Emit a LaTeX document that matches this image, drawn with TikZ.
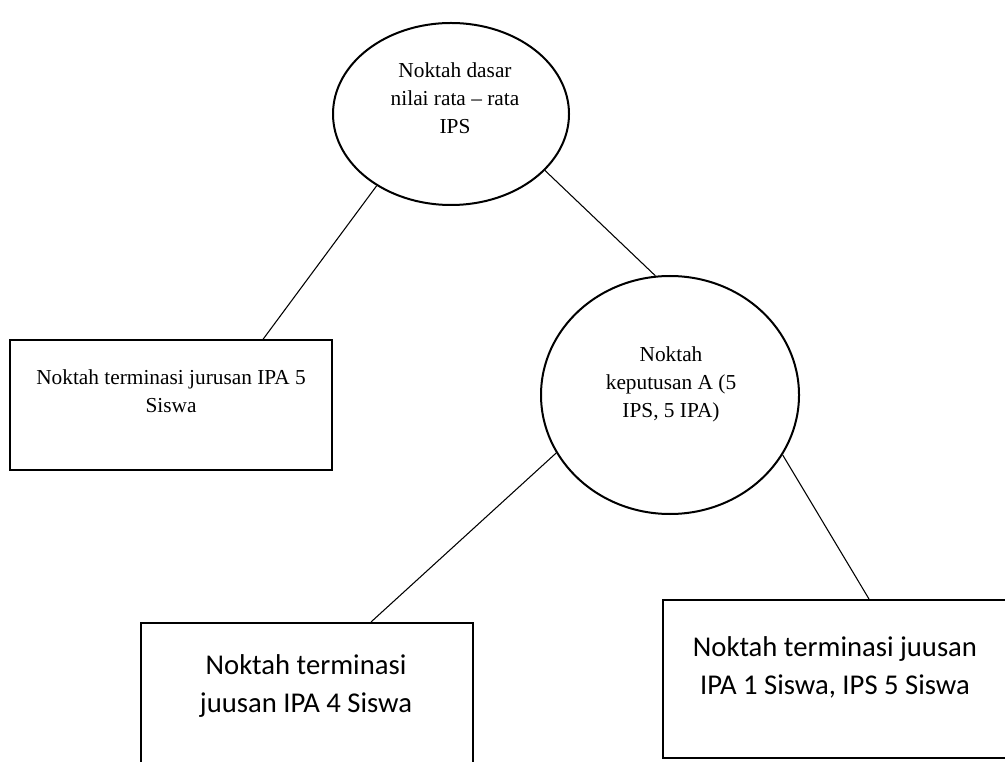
\documentclass[tikz,border=0pt]{standalone}
\usepackage{fontspec}
\setmainfont{Liberation Serif}
\newfontfamily\calfont{Carlito}
\usetikzlibrary{shapes.geometric,calc}

\tikzset{
  outline/.style={draw=black, line width=1.5pt, inner sep=0pt},
  oval/.style={outline, ellipse},
  termbox/.style={outline, rectangle},
  edge/.style={draw=black, line width=0.8pt},
  serif/.style={align=center, inner sep=0pt, font=\fontsize{16pt}{21pt}\selectfont},
  sans/.style={align=center, inner sep=0pt, font=\calfont\fontsize{21.5pt}{28.5pt}\selectfont},
}

\begin{document}
\begin{tikzpicture}[x=0.75pt, y=-0.75pt]
  \useasboundingbox (0,0) rectangle (1005,762);
  \clip (0,0) rectangle (1005,762);

  % decision nodes
  \node[oval, minimum width=177pt, minimum height=136.5pt] (root) at (451,114) {};
  \node[oval, minimum width=193.5pt, minimum height=178.5pt] (deca) at (670,395) {};

  % terminal nodes
  \node[termbox, minimum width=241.5pt, minimum height=97pt] (leafipa) at (171,405) {};
  \node[termbox, minimum width=249pt, minimum height=132.75pt] (leafleft) at (307,711.5) {};
  \node[termbox, minimum width=258pt, minimum height=118.5pt] (leafright) at (835,679) {};

  % labels
  \node[serif] (roottxt) at (455,98) {Noktah dasar\\nilai rata – rata\\IPS};
  \node[serif] (decatxt) at (671,384) {Noktah\\keputusan A (5\\IPS, 5 IPA)};
  \node[serif] (leafipatxt) at (171,391) {Noktah terminasi jurusan IPA 5\\Siswa};
  \node[sans] (leaflefttxt) at (306,686) {Noktah terminasi\\juusan IPA 4 Siswa};
  \node[sans] (leafrighttxt) at (835,667) {Noktah terminasi juusan\\IPA 1 Siswa, IPS 5 Siswa};

  % branches
  \draw[edge] (root.224) -- ($(leafipa.north west)+(254,0)$);
  \draw[edge] (root.329) -- (deca.97.7);
  \draw[edge] (deca.207) -- ($(leafleft.north west)+(231,0)$);
  \draw[edge] (deca.332) -- ($(leafright.north west)+(207,0)$);
\end{tikzpicture}
\end{document}
